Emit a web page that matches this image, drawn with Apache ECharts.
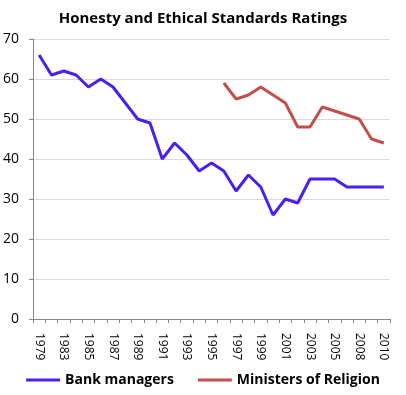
<!DOCTYPE html>
<html><head><meta charset="utf-8">
<script src="https://cdn.jsdelivr.net/npm/echarts@6/dist/echarts.min.js"></script>
<style>html,body{margin:0;padding:0;background:#fff}#c{width:406px;height:395px}</style>
</head><body><div id="c"></div>
<script>
const years = ['1979','1981','1983','1984','1985','1986','1987','1988','1989','1990','1991','1992','1993','1994','1995','1996','1997','1998','1999','2000','2001','2002','2003','2004','2005','2006','2008','2009','2010'];
const bankManagers = [66,61,62,61,58,60,58,54,50,49,40,44,41,37,39,37,32,36,33,26,30,29,35,35,35,33,33,33,33];
const ministers = [null,null,null,null,null,null,null,null,null,null,null,null,null,null,null,59,55,56,58,56,54,48,48,53,52,51,50,45,44];
const yTicks = [0,10,20,30,40,50,60,70];

const chart = echarts.init(document.getElementById('c'));
const font = 'Open Sans, Liberation Sans, sans-serif';
chart.setOption({
  animation: false,
  title: { text: 'Honesty and Ethical Standards Ratings', left: 'center', top: 6,
    textStyle: { fontFamily: font, fontSize: 15, fontWeight: 'bold', color: '#000' } },
  grid: { left: 32, right: 16, top: 39, bottom: 76, containLabel: false },
  legend: { bottom: 3, left: 'center', icon: 'rect', itemWidth: 34, itemHeight: 3, itemGap: 24,
    textStyle: { fontFamily: font, fontSize: 14, fontWeight: 'bold', color: '#000' },
    data: ['Bank managers', 'Ministers of Religion'] },
  xAxis: { type: 'category', data: years, boundaryGap: true,
    axisLine: { lineStyle: { color: '#868686' } },
    axisTick: { show: true, interval: 0, length: 4, lineStyle: { color: '#868686' } },
    axisLabel: { interval: 1, rotate: -90, margin: 14, fontFamily: font, fontSize: 12, color: '#000' } },
  yAxis: { type: 'value', min: yTicks[0], max: yTicks[yTicks.length-1], interval: 10,
    axisLine: { show: true, lineStyle: { color: '#868686' } },
    axisTick: { show: true, length: 4, lineStyle: { color: '#868686' } },
    splitLine: { lineStyle: { color: '#d9d9d9' } },
    axisLabel: { margin: 14, fontFamily: font, fontSize: 14, color: '#000' } },
  series: [
    { name: 'Bank managers', type: 'line', data: bankManagers, symbol: 'none',
      lineStyle: { color: '#4a1ff2', width: 3 }, itemStyle: { color: '#4a1ff2' } },
    { name: 'Ministers of Religion', type: 'line', data: ministers, symbol: 'none',
      lineStyle: { color: '#c0504d', width: 3 }, itemStyle: { color: '#c0504d' } }
  ]
});
</script></body></html>
